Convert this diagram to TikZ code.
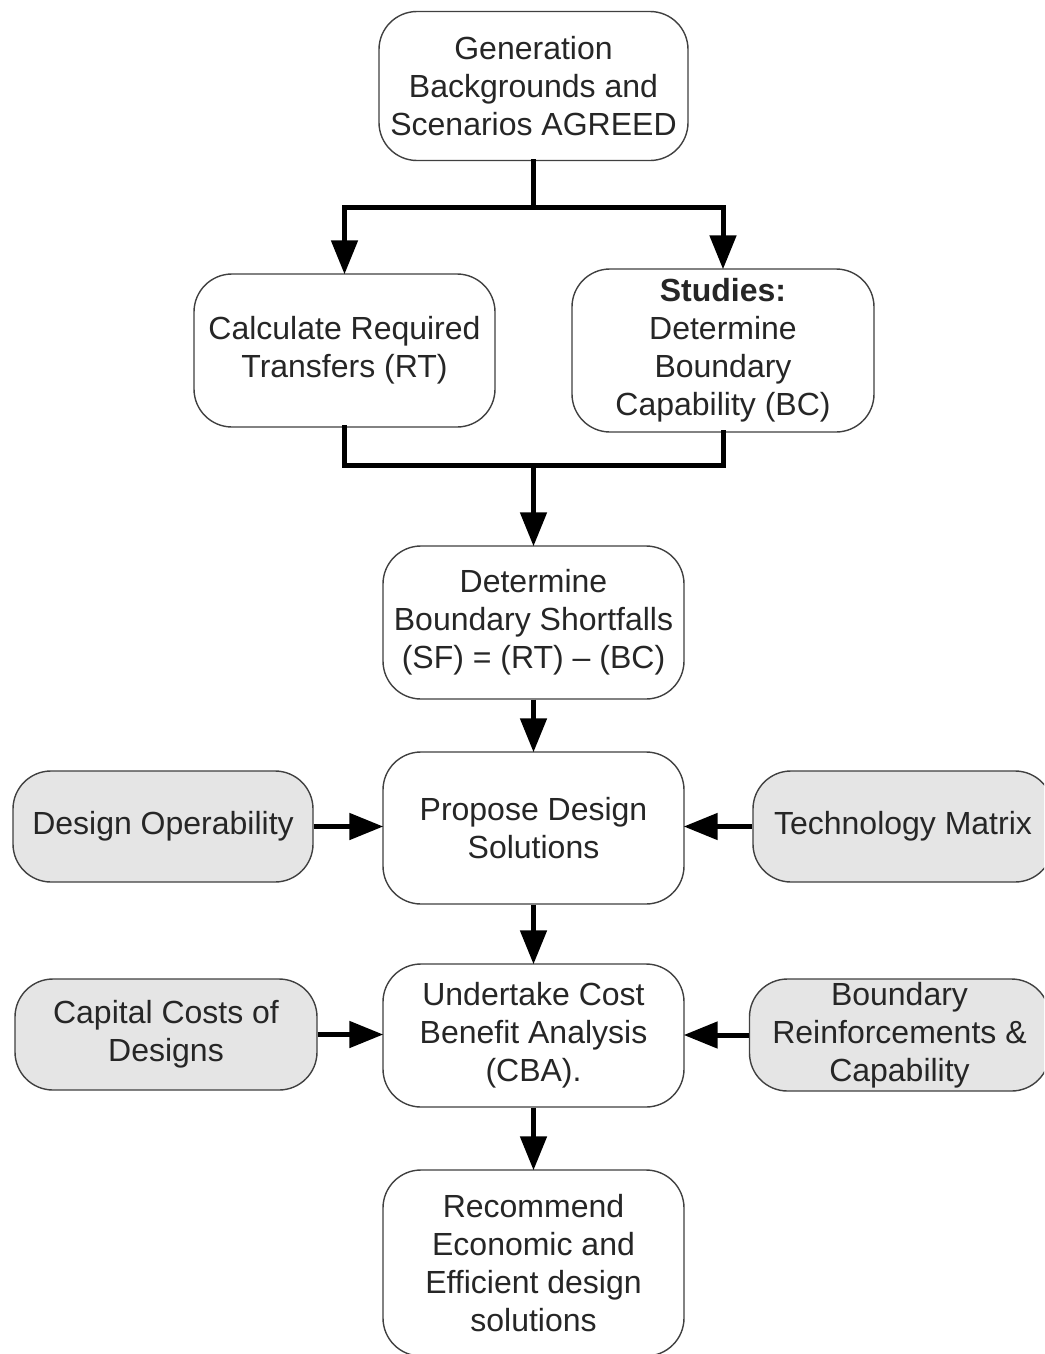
\documentclass[tikz,border=0pt]{standalone}
\usepackage{fontspec}
\setmainfont{Liberation Sans}
\usetikzlibrary{arrows.meta}
\begin{document}
\begin{tikzpicture}[x=1pt,y=-1pt,
  box/.style={draw=black!75, line width=1.4pt, rounded corners=38pt,
    align=center, text=black!85, inner sep=0pt,
    font=\fontsize{32}{38}\selectfont},
  gbox/.style={box, fill=black!10},
  link/.style={line width=5pt, line cap=rect},
  arr/.style={line width=5pt, -{Triangle[length=34pt,width=26pt]}, shorten >=-1pt},
]
\useasboundingbox (0,0) rectangle (1044,1354);
\fill[white] (0,0) rectangle (1044,1354);
\clip (0,0) rectangle (1044,1354);

% process steps
\node[box, minimum width=309pt, minimum height=149pt] (gen) at (533.5,86)
  {Generation\\Backgrounds and\\Scenarios AGREED};
\node[box, minimum width=301pt, minimum height=153pt] (rt) at (344.5,350.5)
  {Calculate Required\\Transfers (RT)};
\node[box, minimum width=302pt, minimum height=163pt] (bc) at (723,350.5)
  {\textbf{Studies:}\\Determine\\Boundary\\Capability (BC)};
\node[box, minimum width=301pt, minimum height=153pt] (sf) at (533.5,622.5)
  {Determine\\Boundary Shortfalls\\(SF) = (RT) -- (BC)};
\node[box, minimum width=301pt, minimum height=152pt] (pds) at (533.5,828)
  {Propose Design\\Solutions};
\node[box, minimum width=301pt, minimum height=143pt] (cba) at (533.5,1035.5)
  {Undertake Cost\\Benefit Analysis\\(CBA).};
\node[box, minimum width=301pt, minimum height=186pt] (rec) at (533.5,1263)
  {Recommend\\Economic and\\Efficient design\\solutions};

% inputs
\node[gbox, minimum width=300pt, minimum height=111pt] (dop) at (163,826.5)
  {Design Operability};
\node[gbox, minimum width=300pt, minimum height=111pt] (tm) at (903,826.5)
  {Technology Matrix};
\node[gbox, minimum width=302pt, minimum height=111pt] (cc) at (166,1034.5)
  {Capital Costs of\\Designs};
\node[gbox, minimum width=300pt, minimum height=112pt] (br) at (899.5,1035)
  {Boundary\\Reinforcements \&\\Capability};

% junctions of the split and merge lines
\coordinate (split) at (533.5,207);
\coordinate (merge) at (533.5,465);

% connectors
\draw[link] (gen.south) -- (split);
\draw[link] (rt.north |- split) -- (bc.south |- split);
\draw[arr] (rt.north |- split) -- (rt.north);
\draw[arr] (bc.north |- split) -- (bc.north);
\draw[link] (rt.south) -- (rt.south |- merge) -- (bc.south |- merge) -- (bc.south);
\draw[arr] (merge) -- (sf.north);
\draw[arr] (sf.south) -- (pds.north);
\draw[arr] (pds.south) -- (cba.north);
\draw[arr] (cba.south) -- (rec.north);
\draw[arr] (dop.east) -- (dop.east -| pds.west);
\draw[arr] (tm.west) -- (tm.west -| pds.east);
\draw[arr] (cc.east) -- (cc.east -| cba.west);
\draw[arr] (br.west) -- (br.west -| cba.east);
\end{tikzpicture}
\end{document}
